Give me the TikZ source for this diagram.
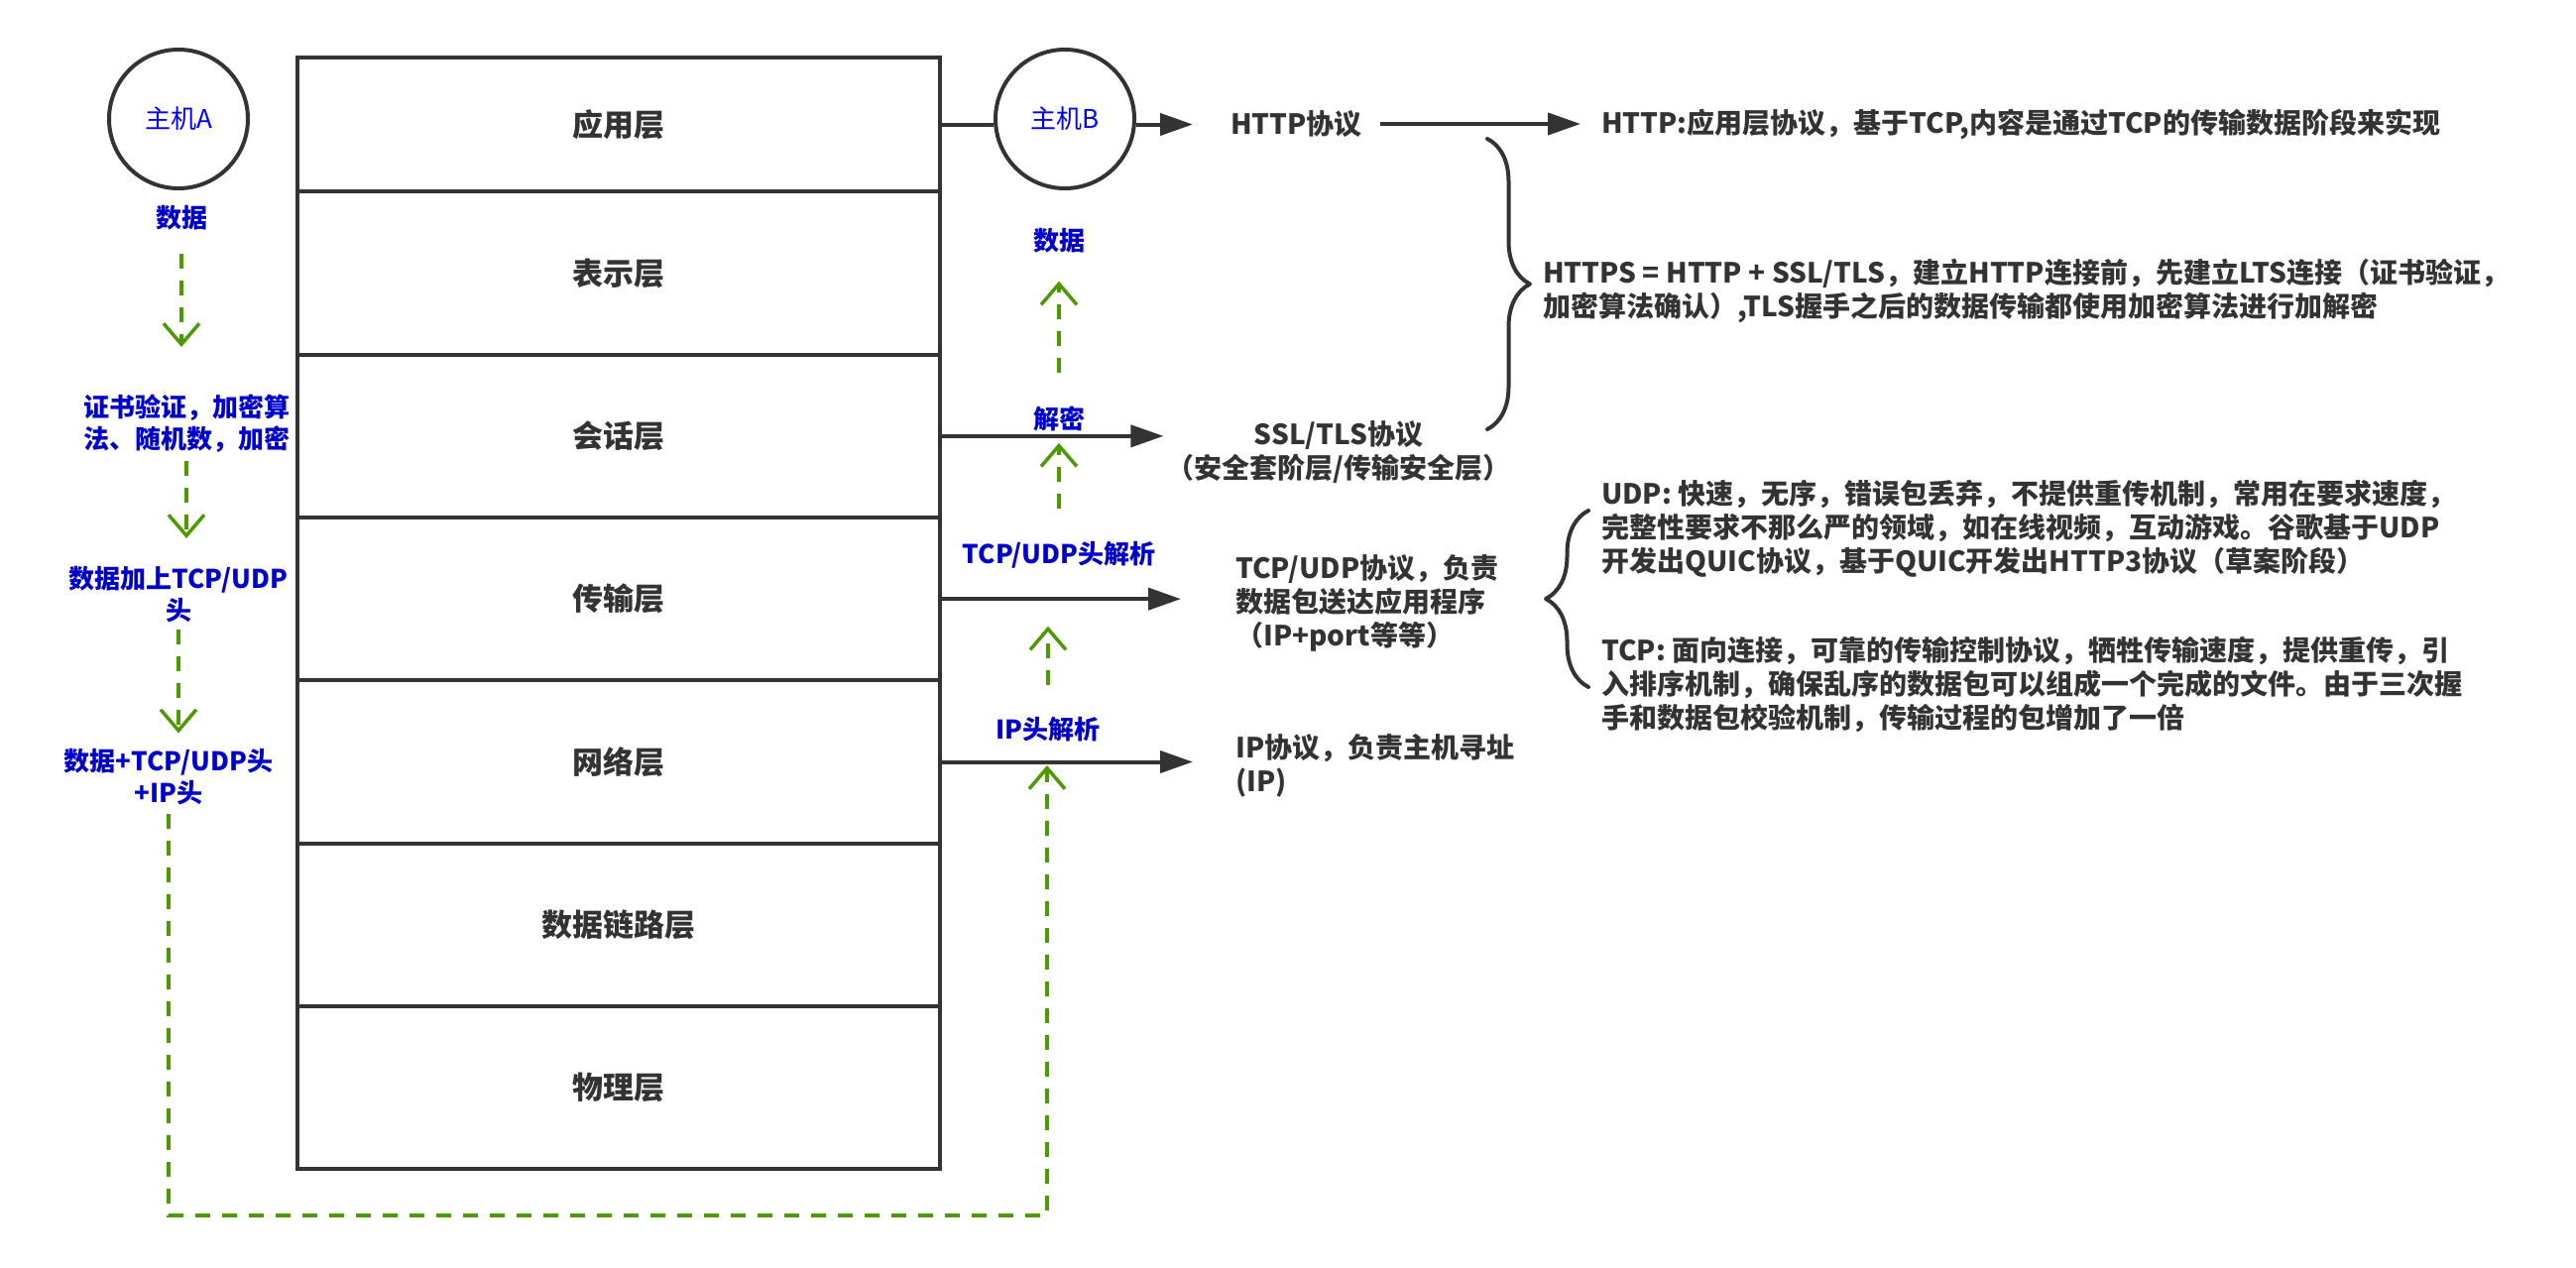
\documentclass[tikz,border=0pt]{standalone}
\usepackage{fontspec}
\newfontfamily\cjk{Noto Sans CJK SC}
\usetikzlibrary{arrows.meta,decorations.pathreplacing}
\definecolor{ink}{HTML}{333333}
\definecolor{flowgreen}{HTML}{4D9900}
\definecolor{tagblue}{HTML}{0000CC}
\definecolor{hostblue}{HTML}{0000FF}
\tikzset{
  layerbox/.style={draw=ink, line width=4pt, minimum width=648pt, minimum height=164.3pt,
    text=ink, font=\cjk\bfseries\fontsize{31}{37}\selectfont},
  hostnode/.style={circle, draw=ink, line width=4pt, minimum size=140pt,
    text=hostblue, font=\cjk\fontsize{26}{32}\selectfont},
  tagtext/.style={inner sep=0pt, align=center, text=tagblue,
    font=\cjk\bfseries\fontsize{26}{32}\selectfont},
  notetext/.style={inner sep=0pt, align=left, text=ink,
    font=\cjk\bfseries\fontsize{28}{34}\selectfont},
  linkarrow/.style={draw=ink, line width=4pt, -{Triangle[length=33pt,width=22pt]}},
  flowarrow/.style={draw=flowgreen, line width=3.5pt, dash pattern=on 15pt off 12pt,
    -{Straight Barb[length=21pt,width=36pt]}},
  bracebar/.style={draw=ink, line width=4pt, line cap=round, line join=round,
    decorate, decoration={brace, amplitude=43pt}}
}
\begin{document}
\begin{tikzpicture}[x=1pt, y=-1pt]
  \useasboundingbox (0,0) rectangle (2598,1278);
  \node[hostnode] (hostA) at (180,120) {主机A};
  \node[hostnode] (hostB) at (1074,120) {主机B};

  \node[layerbox, minimum height=135.6pt] (app) at (624,125.5) {应用层};
  \node[layerbox] (pres) at (624,275.5) {表示层};
  \node[layerbox] (sess) at (624,439.85) {会话层};
  \node[layerbox] (trans) at (624,604.15) {传输层};
  \node[layerbox] (net) at (624,768.5) {网络层};
  \node[layerbox] (dlink) at (624,932.8) {数据链路层};
  \node[layerbox] (phys) at (624,1097.15) {物理层};

  \node[tagtext] (dataA) at (183,220) {数据};
  \node[tagtext] (cert) at (188,427.5) {证书验证，加密算\\法、随机数，加密};
  \node[tagtext] (tcpA) at (180,599.5) {数据加上TCP/UDP\\头};
  \node[tagtext] (ipA) at (170,784) {数据+TCP/UDP头\\+IP头};

  \node[tagtext] (dataB) at (1068,243) {数据};
  \node[tagtext] (decrypt) at (1068,422) {解密};
  \node[tagtext] (tcpparse) at (1068,560) {TCP/UDP头解析};
  \node[tagtext] (ipparse) at (1057,736) {IP头解析};

  \node[notetext, anchor=west] (http) at (1241,125) {HTTP协议};
  \node[notetext, anchor=west] (httpnote) at (1615,125)
    {HTTP:应用层协议，基于TCP,内容是通过TCP的传输数据阶段来实现};
  \node[notetext, anchor=west] (https) at (1556,293.5)
    {HTTPS = HTTP + SSL/TLS，建立HTTP连接前，先建立LTS连接（证书验证，\\
     加密算法确认）,TLS握手之后的数据传输都使用加密算法进行加解密};
  \node[notetext, align=center] (ssl) at (1350,456) {SSL/TLS协议\\（安全套阶层/传输安全层）};
  \node[notetext, anchor=west] (tcp) at (1246,608.5)
    {TCP/UDP协议，负责\\数据包送达应用程序\\（IP+port等等）};
  \node[notetext, anchor=west] (ip) at (1246,772.5) {IP协议，负责主机寻址\\(IP)};
  \node[notetext, anchor=west] (udp) at (1615,533)
    {UDP: 快速，无序，错误包丢弃，不提供重传机制，常用在要求速度，\\
     完整性要求不那么严的领域，如在线视频，互动游戏。谷歌基于UDP\\
     开发出QUIC协议，基于QUIC开发出HTTP3协议（草案阶段）};
  \node[notetext, anchor=west] (tcpnote) at (1615,691)
    {TCP: 面向连接，可靠的传输控制协议，牺牲传输速度，提供重传，引\\
     入排序机制，确保乱序的数据包可以组成一个完成的文件。由于三次握\\
     手和数据包校验机制，传输过程的包增加了一倍};

  \coordinate (floor) at (1056,1226);
  \coordinate (ipin) at (1056,772);

  \draw[draw=ink, line width=4pt] (app.east) -- (app.east -| hostB.west);
  \draw[linkarrow, shorten >=38pt] (app.east -| hostB.east) -- (app.east -| http.west);
  \draw[linkarrow, shorten <=18pt, shorten >=21pt] (http.east) -- (httpnote.west);
  \draw[linkarrow, shorten >=3pt] (sess.east) -- (sess.east -| ssl.west);
  \draw[linkarrow, shorten >=55pt] (trans.east) -- (trans.east -| tcp.west);
  \draw[linkarrow, shorten >=43pt] (net.east) -- (net.east -| ip.west);

  \draw[flowarrow, shorten <=23pt, shorten >=48pt] (dataA.south) -- (dataA.south |- cert.north);
  \draw[flowarrow, shorten <=8pt, shorten >=28pt] (cert.south) -- (cert.south |- tcpA.north);
  \draw[flowarrow, shorten <=7pt, shorten >=16pt] (tcpA.south) -- (tcpA.south |- ipA.north);
  \draw[flowarrow, shorten <=8pt] (ipA.south) |- (floor) -- (ipin);
  \draw[flowarrow, shorten <=32pt, shorten >=58pt] (ipparse.north) -- (ipparse.north |- tcpparse.south);
  \draw[flowarrow, shorten <=33pt, shorten >=12pt] (tcpparse.north) -- (decrypt.south);
  \draw[flowarrow, shorten <=33pt, shorten >=28pt] (decrypt.north) -- (dataB.south);

  \draw[bracebar] (1500,140) -- (1500,433);
  \draw[bracebar] (1602,693) -- (1602,515);
\end{tikzpicture}
\end{document}
